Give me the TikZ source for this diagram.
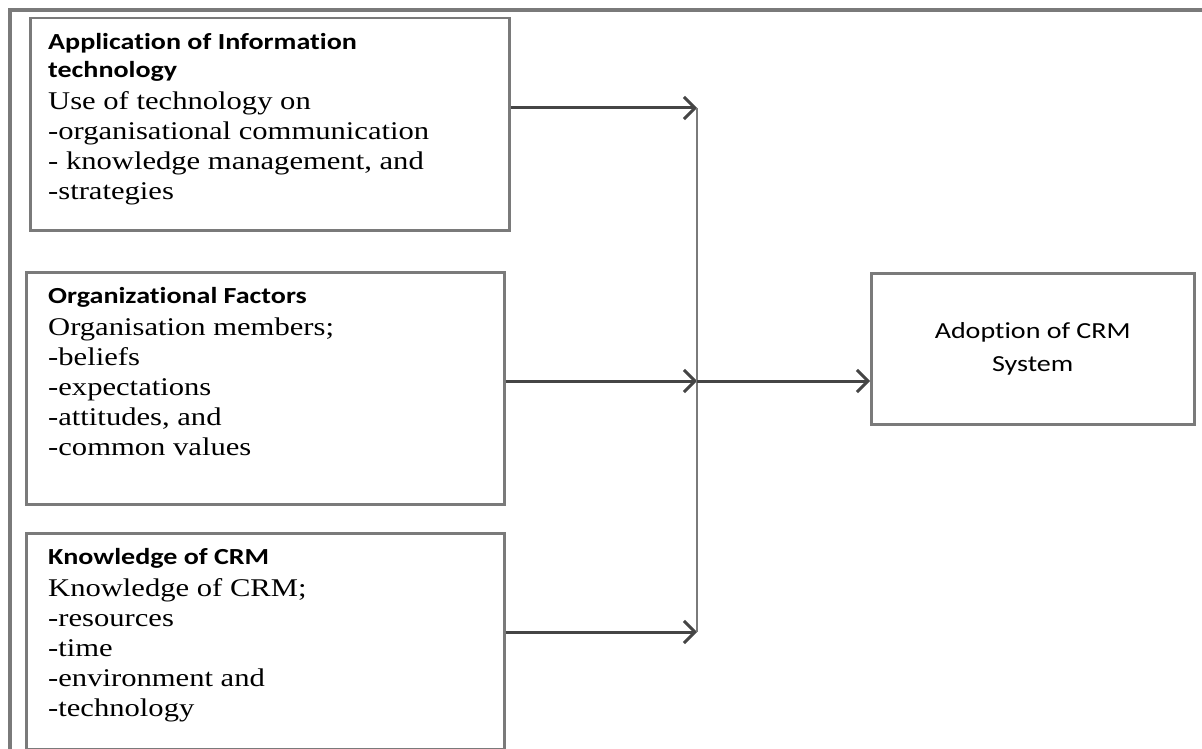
\documentclass[tikz,border=0pt]{standalone}
\usepackage{fontspec}
\setmainfont{Liberation Serif}
\newfontfamily\bodyfont{Liberation Serif}[FakeStretch=1.2]
\newfontfamily\headfont{Carlito}[FakeStretch=1.22,Ligatures=NoCommon]
\usetikzlibrary{positioning}
\usetikzlibrary{arrows.meta}
\definecolor{boxgray}{HTML}{7A7A7A}
\definecolor{arrowgray}{HTML}{454545}
\tikzset{factor/.style={draw=boxgray,line width=2.5pt,anchor=north west,inner sep=0pt}}
\tikzset{factortext/.style={anchor=north west,inner sep=0pt,text width=450pt,align=left}}
\tikzset{flow/.style={draw=arrowgray,line width=3pt,-{Straight Barb[length=11pt,width=22pt]}}}
\newcommand{\hd}{\headfont\bfseries\fontsize{23}{28}\selectfont\spaceskip=0pt\xspaceskip=0pt }
\newcommand{\bd}{\bodyfont\mdseries\fontsize{25.5}{30}\selectfont\spaceskip=0pt\xspaceskip=0pt }

\begin{document}
\begin{tikzpicture}[x=1pt,y=-1pt]
\useasboundingbox (0,0) rectangle (1202,749);

% outer frame
\draw[boxgray,line width=4pt] (10,749) -- (10,10) -- (1202,10);

\node[factor,minimum width=479pt,minimum height=212pt] at (29,17) (infotech) {};
\node[factortext] at (48,33) (infotechtext) {\hd Application of Information\\technology\\[2pt]
\bd Use of technology on\\-organisational communication\\- knowledge management, and\\-strategies\par};

\node[factor,minimum width=478pt,minimum height=232pt] at (25,271) (orgfac) {};
\node[factortext] at (48,287) (orgfactext) {\hd Organizational Factors\\[2pt]
\bd Organisation members;\\-beliefs\\-expectations\\-attitudes, and\\-common values\par};

\node[factor,minimum width=478pt,minimum height=216pt] at (25,532) (crmknow) {};
\node[factortext] at (48,548) (crmknowtext) {\hd Knowledge of CRM\\[2pt]
\bd Knowledge of CRM;\\-resources\\-time\\-environment and\\-technology\par};

\node[factor,minimum width=323pt,minimum height=151pt,align=center,
  font=\headfont\fontsize{23}{33}\selectfont] at (870,272) (adopt) {Adoption of CRM\\System};

\coordinate (j1) at (697,108);
\coordinate (j2) at (697,381);
\coordinate (j3) at (697,632);

\draw[flow] (infotech.east |- j1) -- (j1);
\draw[flow] (orgfac.east |- j2) -- (j2);
\draw[flow] (crmknow.east |- j3) -- (j3);
\draw[boxgray,line width=2.5pt] (j1) -- (j3);
\draw[flow] (j2) -- (adopt.west |- j2);

\end{tikzpicture}
\end{document}
